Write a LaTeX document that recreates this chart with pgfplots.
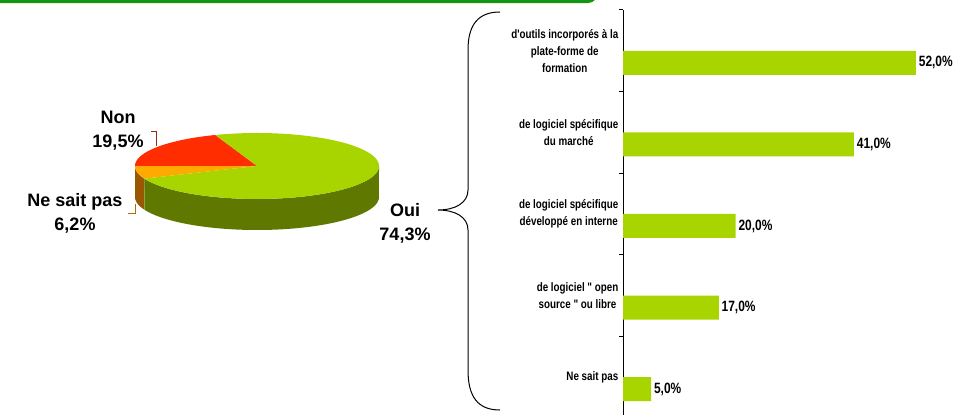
\documentclass[border=0pt]{standalone}
\usepackage{pgfplots}
\pgfplotsset{compat=1.18}
\usepackage{fontspec}
\setmainfont{Liberation Sans}
\newfontfamily\narrowfont[FakeStretch=0.8]{Liberation Sans}
\definecolor{barg}{RGB}{168,212,0}
\definecolor{sideg}{RGB}{95,121,0}
\definecolor{nonred}{RGB}{255,45,0}
\definecolor{nsporange}{RGB}{255,170,0}
\definecolor{sideo}{RGB}{153,88,0}
\definecolor{topgreen}{RGB}{20,150,20}
\definecolor{leadred}{RGB}{150,40,20}
\definecolor{leadorange}{RGB}{170,110,20}

% pie data (percent)
\def\vNon{19.5}
\def\vNsp{6.2}
\def\vOui{74.3}
\def\cx{257}
\def\cy{248}
\def\ra{122}
\def\rb{33}
\def\dd{31}
\pgfmathsetmacro{\aA}{110}
\pgfmathsetmacro{\aB}{\aA+3.6*\vNon}
\pgfmathsetmacro{\aC}{\aB+3.6*\vNsp}
\pgfmathsetmacro{\aD}{\aC+3.6*\vOui}

\begin{document}
\begin{tikzpicture}[x=0.75pt,y=0.75pt]
\useasboundingbox (0,0) rectangle (970,414);
\begin{scope}
\clip (0,0) rectangle (970,414);

% top green frame line
\draw[topgreen, line width=2.6pt] (-5,412.5) -- (587,412.5) to[out=0,in=-90] (597.5,424);

% pie chart
\begin{axis}[
  at={(0pt,0pt)}, anchor=south west,
  x=0.75pt, y=0.75pt,
  xmin=0, xmax=970, ymin=0, ymax=414,
  enlargelimits=false, hide axis, clip=false,
]
% side walls
\addplot[draw=none, fill=sideo, domain=0:2, samples=201]
  ({\cx+\ra*cos(x<1.0001 ? \aB+x*(\aC-\aB) : \aC-(x-1)*(\aC-\aB))},
   {\cy+\rb*sin(x<1.0001 ? \aB+x*(\aC-\aB) : \aC-(x-1)*(\aC-\aB)) - (x<1.0001 ? 0 : \dd)}) -- cycle;
\addplot[draw=none, fill=sideg, domain=0:2, samples=301]
  ({\cx+\ra*cos(x<1.0001 ? \aC+x*(360-\aC) : 360-(x-1)*(360-\aC))},
   {\cy+\rb*sin(x<1.0001 ? \aC+x*(360-\aC) : 360-(x-1)*(360-\aC)) - (x<1.0001 ? 0 : \dd)}) -- cycle;
% top face
\addplot[draw=none, fill=nonred, domain=\aA:\aB, samples=60]
  ({\cx+\ra*cos(x)},{\cy+\rb*sin(x)}) -- (axis cs:\cx,\cy) -- cycle;
\addplot[draw=none, fill=nsporange, domain=\aB:\aC, samples=30]
  ({\cx+\ra*cos(x)},{\cy+\rb*sin(x)}) -- (axis cs:\cx,\cy) -- cycle;
\addplot[draw=none, fill=barg, domain=\aC:\aD, samples=200]
  ({\cx+\ra*cos(x)},{\cy+\rb*sin(x)}) -- (axis cs:\cx,\cy) -- cycle;
% leader lines
\draw[leadred, line width=0.6pt] (axis cs:151,283) -- (axis cs:156,283) -- (axis cs:156,268);
\draw[leadorange, line width=0.6pt] (axis cs:135,210) -- (axis cs:135,201) -- (axis cs:128,201);
% labels
\node[align=center, font=\bfseries\fontsize{13.5}{18}\selectfont] at (axis cs:118,283) {Non\\19,5\%};
\node[align=center, font=\bfseries\fontsize{13.5}{18}\selectfont] at (axis cs:75,201) {Ne sait pas\\6,2\%};
\node[align=center, font=\bfseries\fontsize{13.5}{18}\selectfont] at (axis cs:405,191) {Oui\\74,3\%};
\end{axis}

% brace
\draw[black, line width=0.75pt] (500,402) .. controls (478,402) and (468,389) .. (468,364) -- (468,224)
  .. controls (468,211) and (455,204) .. (438,204)
  .. controls (455,204) and (468,197) .. (468,184) -- (468,44)
  .. controls (468,17) and (478,4) .. (500,4);

% bar chart
\begin{axis}[
  at={(467.25pt,-3pt)}, anchor=south west,
  scale only axis, width=253.5pt, height=306pt,
  xmin=0, xmax=60, ymin=0, ymax=5,
  hide x axis,
  axis y line*=left,
  y axis line style={black, line width=0.75pt},
  ytick={0.5,1.5,2.5,3.5,4.5},
  yticklabels={Ne sait pas, {de logiciel " open\\source " ou libre}, {de logiciel spécifique\\développé en interne}, {de logiciel spécifique\\du marché}, {d'outils incorporés à la\\plate-forme de\\formation}},
  yticklabel style={align=center, font=\narrowfont\bfseries\fontsize{9.2}{12.75}\selectfont},
  major tick length=0pt,
  minor ytick={0,1,2,3,4,5},
  minor tick length=3pt,
  tick align=outside,
  minor tick style={black, line width=0.75pt},
  xbar, bar width=18pt,
  clip=false,
  nodes near coords={\pgfmathprintnumber[fixed, fixed zerofill, precision=1, use comma, assume math mode=true]{\pgfplotspointmeta}\%},
  nodes near coords style={font=\narrowfont\bfseries\fontsize{11.2}{12}\selectfont, anchor=west, inner sep=2pt},
]
\addplot[fill=barg, draw=none] coordinates {(52,4.353) (41,3.353) (20,2.353) (17,1.353) (5,0.353)};
\end{axis}
\end{scope}
\end{tikzpicture}
\end{document}
